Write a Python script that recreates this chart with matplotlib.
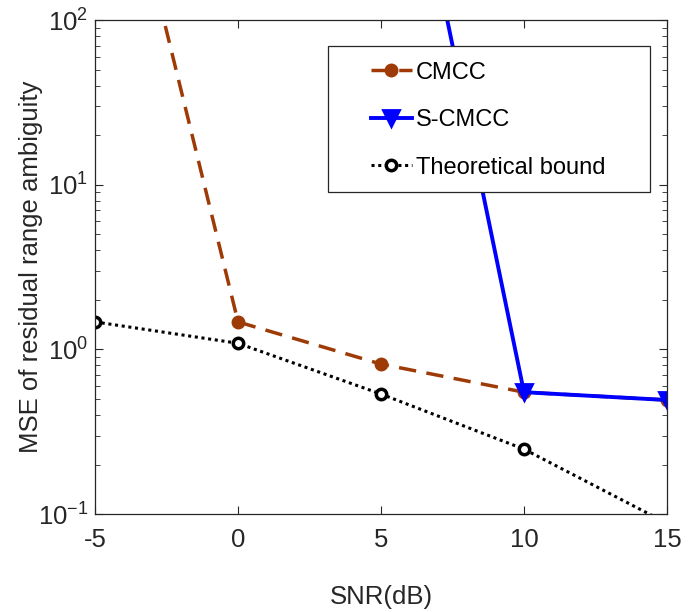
import matplotlib
matplotlib.use("Agg")
import matplotlib.pyplot as plt
from matplotlib.patches import Rectangle

plt.rcParams["font.family"] = ["Liberation Sans", "DejaVu Sans"]
plt.rcParams["mathtext.fontset"] = "custom"
plt.rcParams["mathtext.rm"] = "Liberation Sans"
plt.rcParams["mathtext.it"] = "Liberation Sans"

snr = [-5, 0, 5, 10, 15]
cmcc = [5000, 1.47, 0.815, 0.55, 0.493]
scmcc = [1e5, 5e4, 9000, 0.55, 0.493]
bound = [1.47, 1.09, 0.536, 0.248, 0.088]

fig = plt.figure(figsize=(6.94, 6.12), dpi=100)
ax = fig.add_axes([0.137, 0.160, 0.824, 0.807])

brown = "#9E3A05"
blue = "#0000FF"
ax.plot(snr, cmcc, color=brown, linestyle=(0, (5, 3)), linewidth=2.5,
        marker="o", markersize=9, markerfacecolor=brown, markeredgecolor=brown,
        label="CMCC")
ax.plot(snr, scmcc, color=blue, linewidth=2.8, marker="v", markersize=11.5,
        markerfacecolor=blue, markeredgecolor=blue, markeredgewidth=2,
        label="S-CMCC")
ax.plot(snr, bound, color="black", linestyle=(0, (1, 1.2)), linewidth=2.2,
        marker="o", markersize=7.5, markerfacecolor="white", markeredgecolor="black",
        markeredgewidth=2.5, label="Theoretical bound")

ax.set_yscale("log")
ax.set_xlim(-5, 15)
ax.set_ylim(0.1, 100)
ax.set_xticks([-5, 0, 5, 10, 15])
ax.set_xticklabels(["-5", "0", "5", "10", "15"])
ax.tick_params(axis="both", which="both", direction="in", top=True, right=True,
               labelsize=18.5, colors="#262626")
ax.tick_params(axis="both", which="major", length=6, width=0.8)
ax.tick_params(axis="y", which="minor", length=3.5, width=0.6)
ax.tick_params(axis="x", pad=10)
ax.tick_params(axis="y", pad=5)
for sp in ax.spines.values():
    sp.set_color("#262626")
    sp.set_linewidth(0.9)

ax.set_xlabel("SNR(dB)", fontsize=18.5, color="#262626", labelpad=24)
ax.set_ylabel("MSE of residual range ambiguity", fontsize=18.5, color="#262626",
              labelpad=-4)

ax.add_patch(Rectangle((0.407, 0.652), 0.563, 0.295, transform=ax.transAxes,
                       facecolor="white", edgecolor="#262626", linewidth=0.9,
                       zorder=5))
leg = ax.legend(loc="upper left", bbox_to_anchor=(0.482, 0.916), frameon=False,
                fontsize=17, handlelength=1.75, handletextpad=0.15,
                labelspacing=1.08, borderpad=0, borderaxespad=0)
leg.set_zorder(6)

fig.savefig("out.png", dpi=100)
